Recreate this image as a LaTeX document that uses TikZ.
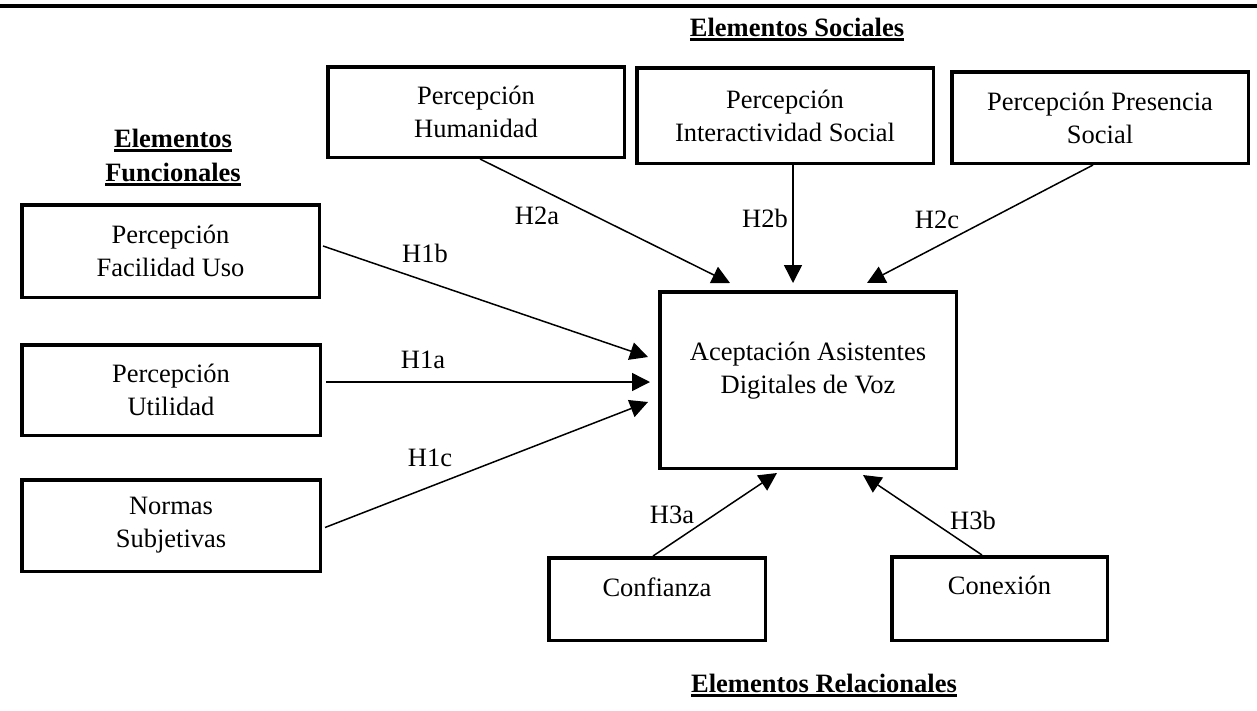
\documentclass[tikz,border=0pt]{standalone}
\usepackage{fontspec}
\setmainfont{Liberation Serif}
\usetikzlibrary{arrows.meta,calc}
% bold heading with a heavy underline
\newcommand\titleul[1]{\setbox0=\hbox{#1}\rlap{\rule[-5pt]{\wd0}{3pt}}\box0}

\begin{document}
\begin{tikzpicture}[x=1pt,y=-1pt,
  every node/.style={font=\fontsize{26.5}{33}\selectfont},
  box/.style={draw, line width=3.5pt, align=center, inner sep=2pt},
  link/.style={line width=1.5pt, -{Triangle[length=18pt,width=18pt]}},
  hyp/.style={inner sep=0pt},
  heading/.style={font=\fontsize{26.5}{34}\selectfont\bfseries, align=center, inner sep=0pt}]

\useasboundingbox (0,0) rectangle (1257,710);
\draw[line width=4pt] (0,5.5) -- (1257,5.5);

% group headings
\node[heading] (tsoc) at (797,29.5) {\titleul{Elementos Sociales}};
\node[heading] (tfun) at (173,157.5) {\titleul{Elementos}\\\titleul{Funcionales}};
\node[heading] (trel) at (824,685.5) {\titleul{Elementos Relacionales}};

% constructs
\node[box, minimum width=296.5pt, minimum height=90.5pt] (hum) at (476,112) {Percepción\\Humanidad};
\node[box, minimum width=296.5pt, minimum height=95.5pt] (inter) at (785,115.5) {Percepción\\Interactividad Social};
\node[box, minimum width=296.5pt, minimum height=91.5pt] (pres) at (1100,117.5) {Percepción Presencia\\Social};
\node[box, minimum width=297.5pt, minimum height=92.5pt] (fac) at (170.5,251) {Percepción\\Facilidad Uso};
\node[box, minimum width=298.5pt, minimum height=90.5pt] (uti) at (171,390) {Percepción\\Utilidad};
\node[box, minimum width=298.5pt, minimum height=91.5pt] (nor) at (171,525.5) {Normas\\Subjetivas};
\node[box, minimum width=296.5pt, minimum height=176.5pt, text depth=24pt] (acc) at (808,380) {Aceptación Asistentes\\Digitales de Voz};
\node[box, minimum width=216.5pt, minimum height=82.5pt, text depth=24pt] (con) at (657,599) {Confianza};
\node[box, minimum width=215.5pt, minimum height=83.5pt, text depth=27pt] (cnx) at (999.5,598.5) {Conexión};

% hypotheses
\draw[link] ($(fac.east)+(2,-5)$) -- ($(acc.west)+(-10,-23)$);
\draw[link] ($(uti.east)+(4,-8)$) -- ($(acc.west)+(-8,2)$);
\draw[link] ($(nor.east)+(3,2)$) -- ($(acc.west)+(-10,22)$);
\draw[link] ($(hum.south)+(4,0)$) -- ($(acc.north)+(-78,-7)$);
\draw[link] ($(inter.south)+(8,0)$) -- ($(acc.north)+(-15,-7)$);
\draw[link] ($(pres.south)+(-7,0)$) -- ($(acc.north)+(59,-7)$);
\draw[link] ($(con.north)+(-4,0)$) -- ($(acc.south)+(-31,3)$);
\draw[link] ($(cnx.north)+(-17.5,0)$) -- ($(acc.south)+(55,5)$);

\node[hyp] (h1b) at (425,253) {H1b};
\node[hyp] (h1a) at (423,360) {H1a};
\node[hyp] (h1c) at (430,458) {H1c};
\node[hyp] (h2a) at (537,216) {H2a};
\node[hyp] (h2b) at (765,218) {H2b};
\node[hyp] (h2c) at (937,220) {H2c};
\node[hyp] (h3a) at (672,515) {H3a};
\node[hyp] (h3b) at (973,520) {H3b};
\end{tikzpicture}
\end{document}
